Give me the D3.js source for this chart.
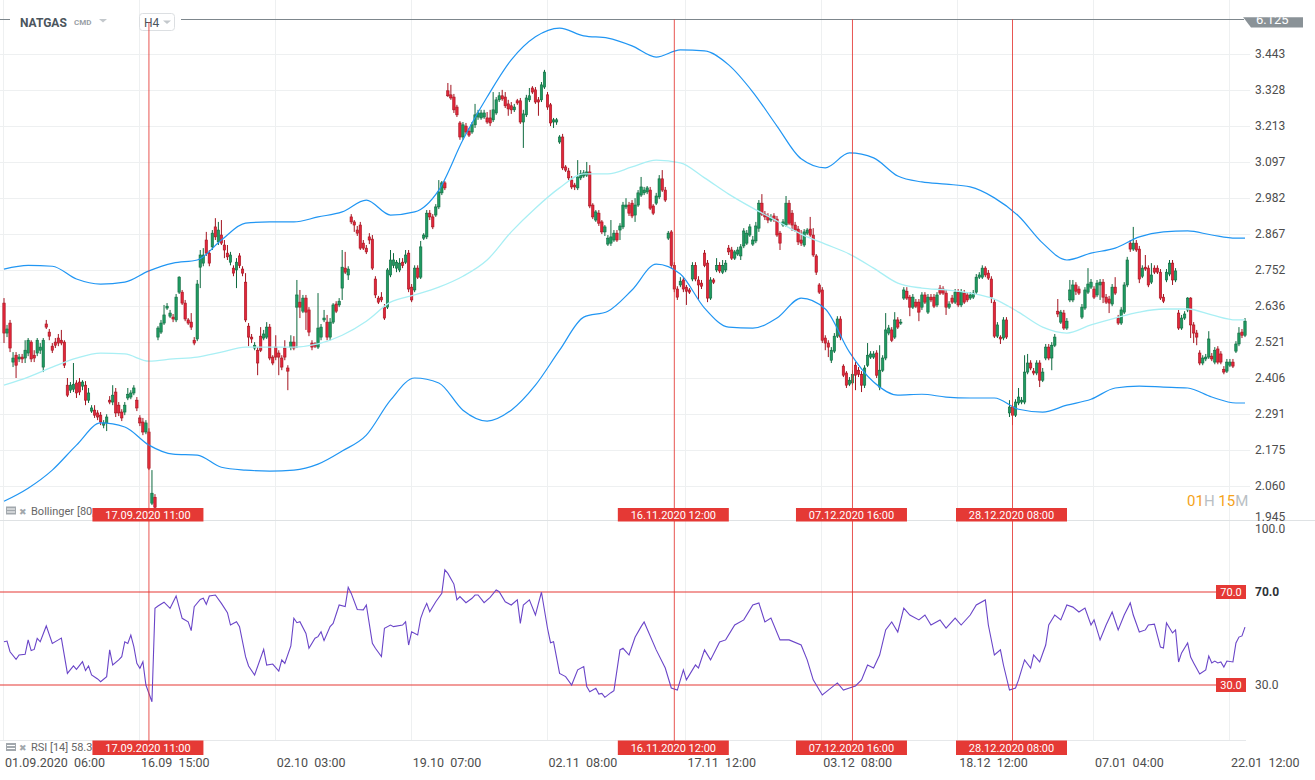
<!DOCTYPE html>
<html>
<head>
<meta charset="utf-8">
<title>NATGAS H4</title>
<script src="https://cdn.jsdelivr.net/npm/d3@7/dist/d3.min.js"></script>
<style>
  html, body { margin: 0; padding: 0; background: #fff; overflow: hidden; }
  svg { display: block; font-family: Roboto, "Noto Sans", Arial, sans-serif; }
</style>
</head>
<body>
<svg id="svg"></svg>
<script>
// H4 candles (prices)
const opens = [
  2.646,2.550,2.582,2.457,2.479,2.467,2.473,2.470,2.486,2.521,
  2.479,2.486,2.495,2.441,2.579,2.553,2.508,2.521,2.534,2.527,
  2.521,2.383,2.367,2.370,2.390,2.393,2.380,2.383,2.335,2.300,
  2.303,2.294,2.287,2.255,2.262,2.335,2.329,2.361,2.319,2.297,
  2.297,2.342,2.345,2.358,2.335,2.278,2.265,2.233,2.233,2.005,
  2.024,2.537,2.553,2.582,2.630,2.604,2.601,2.592,2.681,2.681,
  2.646,2.592,2.585,2.527,2.531,2.761,2.774,2.848,2.806,2.826,
  2.890,2.842,2.864,2.832,2.806,2.777,2.758,2.752,2.797,2.755,
  2.713,2.572,2.537,2.502,2.495,2.540,2.534,2.537,2.569,2.473,
  2.505,2.486,2.470,2.502,2.438,2.505,2.521,2.633,2.649,2.620,
  2.662,2.624,2.518,2.515,2.505,2.537,2.592,2.585,2.537,2.585,
  2.643,2.640,2.694,2.758,2.736,2.922,2.906,2.880,2.896,2.838,
  2.822,2.858,2.851,2.723,2.662,2.665,2.633,2.633,2.736,2.767,
  2.758,2.752,2.777,2.777,2.806,2.697,2.688,2.758,2.729,2.854,
  2.858,2.934,2.922,2.928,2.954,2.999,3.031,3.326,3.313,3.306,
  3.274,3.223,3.178,3.213,3.197,3.194,3.217,3.242,3.239,3.242,
  3.239,3.239,3.233,3.255,3.297,3.310,3.306,3.284,3.278,3.265,
  3.294,3.294,3.226,3.249,3.297,3.335,3.329,3.297,3.297,3.338,
  3.313,3.281,3.226,3.226,3.162,3.178,3.082,3.069,3.040,3.024,
  3.015,3.047,3.053,3.056,3.066,2.960,2.912,2.934,2.906,2.874,
  2.835,2.838,2.848,2.870,2.880,2.890,2.954,2.960,2.966,2.928,
  2.960,2.992,2.999,3.002,3.008,2.957,2.966,2.986,3.044,3.008,
  2.854,2.874,2.767,2.691,2.704,2.720,2.697,2.688,2.723,2.767,
  2.720,2.710,2.806,2.774,2.662,2.720,2.752,2.767,2.745,2.752,
  2.822,2.816,2.790,2.803,2.797,2.829,2.838,2.864,2.835,2.845,
  2.886,2.966,2.931,2.925,2.912,2.925,2.915,2.870,2.896,2.896,
  2.966,2.934,2.896,2.883,2.848,2.832,2.870,2.883,2.864,2.797,
  2.704,2.688,2.534,2.518,2.463,2.492,2.540,2.595,2.444,2.422,
  2.386,2.390,2.447,2.431,2.418,2.383,2.447,2.473,2.473,2.486,
  2.377,2.431,2.470,2.550,2.560,2.537,2.592,2.582,2.662,2.684,
  2.665,2.633,2.649,2.649,2.633,2.672,2.617,2.665,2.665,2.640,
  2.694,2.691,2.678,2.633,2.662,2.649,2.681,2.640,2.678,2.672,
  2.662,2.665,2.681,2.729,2.729,2.758,2.742,2.723,2.649,2.540,
  2.537,2.534,2.592,2.294,2.313,2.287,2.326,2.329,2.329,2.425,
  2.454,2.428,2.422,2.454,2.399,2.470,2.505,2.470,2.511,2.620,
  2.585,2.614,2.566,2.656,2.656,2.704,2.691,2.601,2.630,2.681,
  2.697,2.691,2.672,2.704,2.713,2.665,2.659,2.643,2.697,2.598,
  2.582,2.617,2.704,2.838,2.819,2.838,2.819,2.732,2.761,2.758,
  2.713,2.758,2.758,2.745,2.665,2.720,2.739,2.774,2.720,2.614,
  2.566,2.598,2.624,2.662,2.576,2.550,2.486,2.454,2.467,2.473,
  2.476,2.457,2.499,2.483,2.434,2.428,2.447,2.457,2.492,2.515,
  2.553,2.543
];
const highs = [
  2.662,2.576,2.592,2.489,2.489,2.483,2.483,2.527,2.534,2.527,
  2.495,2.534,2.518,2.534,2.592,2.563,2.518,2.534,2.547,2.560,
  2.527,2.406,2.393,2.454,2.399,2.406,2.399,2.396,2.374,2.319,
  2.319,2.303,2.297,2.271,2.290,2.348,2.383,2.374,2.329,2.306,
  2.329,2.374,2.367,2.383,2.345,2.287,2.278,2.271,2.245,2.111,
  2.034,2.572,2.592,2.640,2.646,2.624,2.611,2.675,2.732,2.688,
  2.656,2.598,2.614,2.537,2.720,2.816,2.822,2.874,2.816,2.880,
  2.918,2.906,2.912,2.848,2.832,2.810,2.767,2.790,2.806,2.764,
  2.742,2.582,2.547,2.521,2.505,2.569,2.560,2.585,2.579,2.479,
  2.543,2.495,2.479,2.527,2.447,2.543,2.540,2.720,2.688,2.672,
  2.672,2.633,2.527,2.521,2.678,2.579,2.624,2.608,2.598,2.646,
  2.652,2.662,2.816,2.810,2.764,2.931,2.912,2.893,2.906,2.848,
  2.832,2.870,2.864,2.732,2.669,2.681,2.643,2.758,2.816,2.806,
  2.784,2.790,2.790,2.816,2.816,2.707,2.767,2.767,2.845,2.870,
  2.944,2.944,2.931,2.963,3.040,3.037,3.037,3.351,3.345,3.316,
  3.281,3.229,3.226,3.223,3.207,3.226,3.284,3.265,3.265,3.265,
  3.258,3.265,3.322,3.306,3.322,3.329,3.322,3.297,3.290,3.284,
  3.300,3.303,3.265,3.313,3.335,3.341,3.338,3.306,3.354,3.393,
  3.322,3.287,3.239,3.239,3.184,3.188,3.088,3.079,3.053,3.031,
  3.104,3.072,3.072,3.098,3.088,2.966,2.944,2.944,2.912,2.896,
  2.864,2.912,2.880,2.880,2.902,2.970,2.982,2.970,2.976,2.982,
  3.008,3.050,3.018,3.021,3.018,2.963,2.999,3.056,3.072,3.018,
  2.877,2.880,2.777,2.700,2.729,2.729,2.704,2.694,2.777,2.777,
  2.732,2.720,2.816,2.784,2.729,2.726,2.790,2.777,2.784,2.784,
  2.832,2.826,2.816,2.826,2.835,2.886,2.880,2.899,2.861,2.906,
  2.976,2.995,2.941,2.934,2.931,2.934,2.925,2.877,2.915,2.989,
  2.976,2.944,2.906,2.893,2.880,2.883,2.886,2.922,2.886,2.803,
  2.710,2.697,2.543,2.527,2.505,2.550,2.604,2.604,2.450,2.428,
  2.409,2.431,2.457,2.441,2.428,2.447,2.518,2.492,2.492,2.495,
  2.511,2.479,2.614,2.576,2.569,2.617,2.601,2.595,2.697,2.697,
  2.672,2.675,2.659,2.659,2.681,2.681,2.675,2.675,2.675,2.681,
  2.704,2.700,2.688,2.652,2.672,2.691,2.691,2.691,2.688,2.681,
  2.681,2.688,2.739,2.745,2.767,2.764,2.752,2.732,2.659,2.585,
  2.543,2.601,2.601,2.335,2.322,2.338,2.374,2.345,2.479,2.483,
  2.463,2.438,2.463,2.463,2.438,2.515,2.515,2.521,2.547,2.659,
  2.624,2.624,2.598,2.720,2.720,2.713,2.700,2.643,2.697,2.758,
  2.723,2.700,2.720,2.723,2.723,2.675,2.669,2.707,2.729,2.608,
  2.633,2.713,2.794,2.848,2.890,2.848,2.829,2.767,2.800,2.767,
  2.774,2.767,2.767,2.755,2.675,2.755,2.784,2.784,2.758,2.624,
  2.608,2.620,2.665,2.665,2.585,2.560,2.495,2.479,2.483,2.556,
  2.486,2.505,2.508,2.492,2.444,2.467,2.467,2.467,2.524,2.569,
  2.563,2.598
];
const lows = [
  2.518,2.537,2.489,2.441,2.406,2.457,2.454,2.454,2.476,2.457,
  2.457,2.476,2.483,2.425,2.563,2.527,2.486,2.502,2.508,2.511,
  2.438,2.345,2.358,2.361,2.342,2.351,2.367,2.319,2.326,2.294,
  2.278,2.271,2.255,2.245,2.236,2.322,2.319,2.281,2.284,2.268,
  2.287,2.335,2.338,2.351,2.300,2.252,2.223,2.226,2.111,1.999,
  1.951,2.527,2.547,2.576,2.624,2.598,2.585,2.585,2.675,2.640,
  2.588,2.576,2.560,2.511,2.524,2.694,2.764,2.797,2.764,2.816,
  2.848,2.832,2.832,2.790,2.784,2.767,2.732,2.694,2.758,2.732,
  2.585,2.508,2.518,2.495,2.415,2.489,2.527,2.531,2.463,2.447,
  2.463,2.415,2.431,2.463,2.367,2.495,2.495,2.502,2.598,2.614,
  2.560,2.540,2.495,2.502,2.499,2.527,2.585,2.527,2.527,2.579,
  2.614,2.633,2.656,2.739,2.720,2.899,2.874,2.861,2.816,2.816,
  2.803,2.835,2.752,2.662,2.643,2.649,2.592,2.627,2.729,2.758,
  2.745,2.745,2.758,2.771,2.681,2.649,2.681,2.723,2.723,2.848,
  2.851,2.912,2.883,2.922,2.947,2.992,3.008,3.306,3.297,3.255,
  3.242,3.169,3.169,3.188,3.178,3.188,3.207,3.233,3.233,3.236,
  3.220,3.213,3.226,3.249,3.290,3.294,3.271,3.246,3.252,3.258,
  3.281,3.220,3.143,3.242,3.290,3.316,3.284,3.246,3.290,3.332,
  3.265,3.213,3.207,3.217,3.156,3.072,3.066,3.040,3.011,3.008,
  3.008,3.040,3.047,3.050,2.950,2.915,2.906,2.893,2.867,2.861,
  2.829,2.829,2.842,2.842,2.848,2.883,2.947,2.925,2.918,2.906,
  2.954,2.986,2.992,2.995,2.944,2.928,2.960,2.979,3.002,2.970,
  2.848,2.758,2.681,2.656,2.697,2.681,2.640,2.675,2.716,2.716,
  2.656,2.691,2.761,2.649,2.656,2.707,2.745,2.742,2.739,2.745,
  2.800,2.784,2.784,2.797,2.784,2.822,2.832,2.858,2.829,2.838,
  2.874,2.925,2.912,2.902,2.906,2.906,2.858,2.816,2.890,2.890,
  2.896,2.877,2.874,2.832,2.829,2.826,2.864,2.858,2.794,2.736,
  2.675,2.518,2.495,2.473,2.454,2.486,2.534,2.527,2.409,2.374,
  2.380,2.383,2.367,2.409,2.361,2.374,2.441,2.467,2.467,2.406,
  2.367,2.425,2.463,2.543,2.521,2.531,2.563,2.576,2.656,2.656,
  2.604,2.627,2.630,2.588,2.624,2.643,2.611,2.649,2.630,2.633,
  2.672,2.672,2.608,2.627,2.643,2.643,2.633,2.633,2.643,2.649,
  2.656,2.659,2.675,2.723,2.723,2.729,2.720,2.646,2.534,2.534,
  2.515,2.527,2.531,2.281,2.255,2.281,2.319,2.322,2.322,2.418,
  2.431,2.415,2.415,2.377,2.393,2.463,2.463,2.431,2.505,2.601,
  2.579,2.560,2.560,2.649,2.649,2.672,2.672,2.595,2.624,2.675,
  2.691,2.659,2.665,2.656,2.646,2.643,2.614,2.636,2.672,2.576,
  2.576,2.611,2.697,2.810,2.813,2.810,2.710,2.726,2.749,2.697,
  2.707,2.739,2.739,2.656,2.646,2.713,2.732,2.704,2.713,2.560,
  2.560,2.592,2.617,2.534,2.518,2.511,2.447,2.447,2.460,2.467,
  2.460,2.450,2.450,2.450,2.418,2.422,2.441,2.438,2.486,2.508,
  2.534,2.537
];
const closes = [
  2.550,2.563,2.502,2.470,2.447,2.473,2.467,2.495,2.527,2.467,
  2.470,2.527,2.505,2.527,2.569,2.540,2.495,2.511,2.518,2.518,
  2.447,2.351,2.383,2.386,2.358,2.361,2.393,2.335,2.358,2.310,
  2.287,2.281,2.265,2.262,2.281,2.329,2.351,2.294,2.294,2.278,
  2.319,2.354,2.358,2.374,2.310,2.262,2.233,2.262,2.117,2.037,
  1.992,2.566,2.582,2.608,2.636,2.614,2.595,2.665,2.729,2.646,
  2.595,2.582,2.569,2.518,2.707,2.800,2.800,2.806,2.774,2.870,
  2.858,2.880,2.838,2.816,2.794,2.800,2.742,2.777,2.767,2.742,
  2.592,2.537,2.531,2.511,2.454,2.495,2.547,2.569,2.470,2.454,
  2.473,2.473,2.441,2.473,2.428,2.521,2.502,2.672,2.633,2.662,
  2.617,2.553,2.505,2.508,2.566,2.569,2.598,2.537,2.585,2.640,
  2.620,2.652,2.761,2.745,2.755,2.906,2.896,2.870,2.822,2.822,
  2.810,2.848,2.758,2.672,2.649,2.656,2.598,2.752,2.784,2.784,
  2.777,2.774,2.767,2.800,2.691,2.656,2.758,2.729,2.826,2.864,
  2.934,2.922,2.890,2.954,3.002,3.031,3.015,3.310,3.303,3.265,
  3.249,3.178,3.217,3.194,3.184,3.217,3.249,3.255,3.255,3.255,
  3.226,3.223,3.265,3.297,3.310,3.300,3.278,3.268,3.265,3.274,
  3.287,3.226,3.252,3.303,3.310,3.322,3.290,3.290,3.345,3.386,
  3.274,3.223,3.233,3.233,3.178,3.079,3.072,3.047,3.018,3.018,
  3.050,3.060,3.063,3.066,2.957,2.922,2.938,2.902,2.874,2.890,
  2.854,2.858,2.870,2.848,2.893,2.960,2.960,2.934,2.925,2.960,
  2.999,3.018,3.008,3.015,2.950,2.934,2.989,3.044,3.008,2.976,
  2.870,2.767,2.691,2.665,2.716,2.691,2.684,2.681,2.767,2.723,
  2.704,2.700,2.767,2.662,2.720,2.713,2.767,2.749,2.767,2.774,
  2.810,2.790,2.810,2.816,2.826,2.877,2.870,2.890,2.848,2.893,
  2.966,2.931,2.922,2.912,2.918,2.915,2.864,2.838,2.906,2.966,
  2.902,2.896,2.880,2.842,2.838,2.874,2.880,2.864,2.800,2.745,
  2.681,2.527,2.518,2.505,2.495,2.540,2.595,2.537,2.415,2.383,
  2.399,2.418,2.415,2.418,2.383,2.438,2.479,2.483,2.483,2.415,
  2.431,2.470,2.560,2.566,2.527,2.592,2.569,2.585,2.688,2.662,
  2.633,2.665,2.636,2.617,2.672,2.649,2.665,2.656,2.636,2.672,
  2.678,2.678,2.633,2.643,2.649,2.681,2.640,2.681,2.649,2.656,
  2.672,2.678,2.729,2.736,2.758,2.736,2.726,2.665,2.540,2.576,
  2.531,2.592,2.537,2.313,2.287,2.329,2.345,2.335,2.425,2.454,
  2.438,2.422,2.454,2.399,2.425,2.505,2.470,2.511,2.537,2.611,
  2.617,2.566,2.588,2.688,2.704,2.684,2.678,2.633,2.688,2.707,
  2.713,2.665,2.710,2.713,2.665,2.649,2.646,2.697,2.678,2.582,
  2.624,2.704,2.784,2.819,2.838,2.816,2.723,2.758,2.755,2.704,
  2.736,2.745,2.745,2.662,2.652,2.745,2.774,2.720,2.749,2.566,
  2.598,2.611,2.662,2.576,2.550,2.537,2.454,2.470,2.473,2.531,
  2.467,2.495,2.457,2.457,2.425,2.457,2.457,2.444,2.515,2.550,
  2.543,2.588
];

// Bollinger (80, 2), sampled at these candle indices
const bandIdx = [0,8,16,24,32,40,48,56,64,72,80,88,96,104,112,120,128,136,144,152,
  160,168,176,184,192,200,208,216,224,232,240,248,256,264,272,280,288,296,304,312,
  320,328,336,344,352,360,368,376,384,392,400,408,411];
const bbUpper = [
  2.755,2.767,2.764,2.723,2.707,2.713,2.749,2.774,2.784,2.848,
  2.902,2.906,2.906,2.922,2.938,2.976,2.928,2.938,3.008,3.169,
  3.306,3.425,3.499,3.527,3.502,3.495,3.470,3.434,3.457,3.454,
  3.409,3.322,3.213,3.108,3.079,3.127,3.111,3.053,3.034,3.027,
  3.018,2.983,2.925,2.838,2.784,2.806,2.822,2.858,2.874,2.877,
  2.864,2.854,2.854
];
const bbMiddle = [
  2.383,2.409,2.441,2.470,2.486,2.483,2.460,2.467,2.473,2.489,
  2.505,2.505,2.505,2.515,2.543,2.588,2.649,2.672,2.697,2.732,
  2.784,2.874,2.950,3.015,3.060,3.060,3.082,3.104,3.095,3.047,
  2.995,2.950,2.909,2.867,2.835,2.803,2.758,2.710,2.694,2.688,
  2.678,2.659,2.617,2.569,2.550,2.576,2.598,2.617,2.627,2.627,
  2.608,2.592,2.592
];
const bbLower = [
  2.011,2.053,2.111,2.191,2.262,2.249,2.191,2.162,2.159,2.120,
  2.111,2.108,2.111,2.130,2.172,2.223,2.335,2.406,2.390,2.303,
  2.268,2.303,2.383,2.495,2.601,2.620,2.688,2.771,2.739,2.630,
  2.569,2.566,2.598,2.662,2.627,2.489,2.393,2.351,2.354,2.345,
  2.342,2.342,2.306,2.297,2.319,2.338,2.374,2.380,2.377,2.374,
  2.345,2.326,2.326
];

// RSI (14), candle index and value
const rsiIdx = [
  0,1,2,4,5,7,8,9,10,11, 12,14,16,18,19,21,23,24,26,27,
  28,29,31,32,34,35,36,38,39,40, 41,42,43,44,45,46,47,49,50,51,
  53,55,57,59,61,62,63,65,66,67, 68,70,72,74,75,77,78,80,81,83,
  86,87,89,91,92,93,95,96,97,98, 100,101,103,104,105,106,108,109,111,113,
  114,115,117,119,120,122,123,125,126,128, 129,132,133,134,135,137,138,139,140,141,
  143,145,146,147,149,150,151,153,155,156, 157,159,161,163,164,166,168,170,171,172,
  174,176,177,178,180,181,182,184,186,188, 190,192,193,194,196,197,198,199,201,202,
  204,205,207,209,211,212,216,219,221,223, 225,226,229,230,232,234,237,239,242,245,
  248,250,252,254,257,260,264,266,268,271, 273,276,278,280,282,284,286,288,290,292,
  294,296,298,300,303,305,307,310,312,315, 317,320,322,325,326,328,330,331,333,335,
  336,338,340,341,343,345,346,348,350,352, 354,356,358,360,361,363,365,367,369,371,
  373,374,376,378,379,381,383,384,385,387, 388,389,390,392,393,394,396,398,399,400,
  401,402,403,404,405,407,408,409,410,411
];
const rsiVals = [
  48.6,48.9,44.3,41.0,42.9,43.2,49.4,44.8,45.3,50.1, 48.6,55.4,47.9,49.4,50.2,35.0,38.2,36.7,40.0,36.2,
  38.2,34.3,32.6,31.4,33.6,45.1,38.6,40.8,42.2,48.6, 47.9,51.5,46.5,39.3,37.2,40.0,30.0,22.8,63.0,64.0,
  65.6,63.0,68.3,58.7,57.2,53.4,63.7,66.8,67.3,64.7, 68.3,68.7,65.1,61.1,55.8,57.2,55.1,42.2,38.2,34.3,
  45.3,38.6,39.0,36.0,40.8,39.3,46.8,58.7,56.8,57.2, 52.2,45.8,50.1,50.8,52.9,49.1,55.1,56.5,64.4,63.7,
  72.0,69.4,62.5,62.3,64.4,47.9,45.8,42.2,54.4,55.8, 55.1,55.8,57.2,47.2,52.9,51.5,58.7,62.3,65.1,61.5,
  65.8,69.4,79.5,78.0,73.4,66.6,68.0,65.4,67.3,68.7, 68.7,65.4,67.7,70.9,70.1,65.8,64.4,66.6,56.5,64.4,
  66.6,60.1,65.1,69.9,54.4,48.2,48.6,35.0,33.6,30.0, 36.5,37.9,29.3,27.1,28.6,26.1,26.4,24.7,26.7,27.6,
  45.1,45.8,42.9,50.5,55.1,57.1,45.1,37.3,28.7,27.8, 36.5,32.2,38.6,37.3,45.1,40.8,48.5,49.4,55.8,58.0,
  64.4,65.3,57.1,58.8,49.4,49.4,47.2,40.8,32.2,25.7, 27.8,30.9,27.8,28.7,29.6,32.2,38.6,37.3,42.9,53.7,
  57.1,52.8,63.1,60.1,58.0,60.1,55.8,58.0,54.5,58.8, 55.8,60.1,64.4,66.6,55.8,42.9,45.1,38.6,27.8,28.7,
  32.2,40.8,37.3,42.9,39.9,47.2,55.8,60.1,58.0,64.4, 63.5,61.4,63.1,55.8,58.0,49.4,55.8,61.4,53.7,60.1,
  65.3,60.1,52.8,53.7,55.8,56.2,46.3,45.9,56.7,52.4, 53.7,39.9,43.8,48.1,42.0,39.5,34.7,36.5,42.5,39.5,
  40.3,39.5,39.9,37.7,40.3,39.9,48.1,50.6,51.1,54.9
];

const priceTicks = ['3.443','3.328','3.213','3.097','2.982','2.867','2.752','2.636','2.521','2.406','2.291','2.175','2.060','1.945'];
const rsiTicks = [100, 70, 30];
const rsiLevels = [70, 30];
const dateTickIdx = [0, 45, 90, 135, 180, 226, 271, 316, 361, 406];
const dateTicks = ['01.09.2020  06:00', '16.09  15:00', '02.10  03:00', '19.10  07:00', '02.11  08:00',
  '17.11  12:00', '03.12  08:00', '18.12  12:00', '07.01  04:00', '22.01  12:00'];
const markerIdx = [48, 222, 281, 334];
const markerLabels = ['17.09.2020 11:00', '16.11.2020 12:00', '07.12.2020 16:00', '28.12.2020 08:00'];

const WIDTH = 1315, HEIGHT = 780;
const PLOT_RIGHT = 1250;
const MAIN_TOP = 19, MAIN_BOTTOM = 520.2;
const RSI_BOTTOM = 740.5;
const GREEN = '#1f9a61', GREEN_DARK = '#0e6a3f';
const RED = '#e2263a', RED_DARK = '#a3131f';
const MARK_RED = '#e53935';
const AXIS_TEXT = '#4d4d4d';

const svg = d3.select('#svg').attr('width', WIDTH).attr('height', HEIGHT);

const x = d3.scaleLinear().domain([0, closes.length - 1]).range([4, 1245]);
const y = d3.scaleLinear().domain([1.9505, 3.556]).range([MAIN_BOTTOM, MAIN_TOP]);
const yRsi = d3.scaleLinear().domain([0, 100]).range([754.75, 522.25]);
const crisp = v => Math.round(v) + 0.5;

const defs = svg.append('defs');
defs.append('clipPath').attr('id', 'mainClip')
  .append('rect').attr('x', 0).attr('y', MAIN_TOP).attr('width', PLOT_RIGHT).attr('height', MAIN_BOTTOM - MAIN_TOP);
defs.append('clipPath').attr('id', 'flagClip')
  .append('rect').attr('x', 1230).attr('y', 17.3).attr('width', 85).attr('height', 12);

// grid
const grid = svg.append('g').attr('stroke', '#eef0f1').attr('stroke-width', 1).attr('shape-rendering', 'crispEdges');
grid.selectAll('line.h').data(priceTicks.slice(0, -1)).enter().append('line')
  .attr('x1', 0).attr('x2', PLOT_RIGHT)
  .attr('y1', d => crisp(y(+d))).attr('y2', d => crisp(y(+d)));
grid.selectAll('line.v').data(dateTickIdx).enter().append('line')
  .attr('x1', d => crisp(x(d)) - 1).attr('x2', d => crisp(x(d)) - 1)
  .attr('y1', 0).attr('y2', RSI_BOTTOM);

// panel separators
svg.append('line').attr('x1', 0).attr('x2', WIDTH).attr('y1', 520.5).attr('y2', 520.5)
  .attr('stroke', '#dfe2e4').attr('shape-rendering', 'crispEdges');
svg.append('line').attr('x1', 0).attr('x2', PLOT_RIGHT - 4).attr('y1', RSI_BOTTOM).attr('y2', RSI_BOTTOM)
  .attr('stroke', '#e6e8ea').attr('shape-rendering', 'crispEdges');

// candles
const candles = closes.map((c, i) => ({
  i, o: opens[i], c,
  h: Math.max(highs[i], opens[i], c),
  l: Math.min(lows[i], opens[i], c)
}));
const isUp = d => d.c >= d.o;
const cg = svg.append('g').attr('clip-path', 'url(#mainClip)');
cg.selectAll('line.wick').data(candles).enter().append('line')
  .attr('class', 'wick')
  .attr('x1', d => x(d.i)).attr('x2', d => x(d.i))
  .attr('y1', d => y(d.h)).attr('y2', d => y(d.l))
  .attr('stroke', d => isUp(d) ? GREEN_DARK : RED_DARK)
  .attr('stroke-width', 1);
cg.selectAll('rect.body').data(candles).enter().append('rect')
  .attr('class', 'body')
  .attr('x', d => x(d.i) - 1.2).attr('width', 2.4)
  .attr('y', d => y(Math.max(d.o, d.c)))
  .attr('height', d => Math.max(1, Math.abs(y(d.o) - y(d.c))))
  .attr('fill', d => isUp(d) ? GREEN : RED)
  .attr('stroke', d => isUp(d) ? GREEN_DARK : RED_DARK)
  .attr('stroke-width', 0.6);

// bollinger bands
const bandLine = d3.line()
  .x((d, k) => x(bandIdx[k]))
  .y(d => y(d))
  .curve(d3.curveMonotoneX);
const bg = svg.append('g').attr('clip-path', 'url(#mainClip)').attr('fill', 'none');
bg.append('path').attr('d', bandLine(bbMiddle)).attr('stroke', '#a9eff4').attr('stroke-width', 1.3);
bg.append('path').attr('d', bandLine(bbUpper)).attr('stroke', '#2196f3').attr('stroke-width', 1.2);
bg.append('path').attr('d', bandLine(bbLower)).attr('stroke', '#2196f3').attr('stroke-width', 1.2);

// RSI levels and line
svg.append('g').selectAll('line').data(rsiLevels).enter().append('line')
  .attr('x1', 0).attr('x2', 1216)
  .attr('y1', d => yRsi(d)).attr('y2', d => yRsi(d))
  .attr('stroke', MARK_RED).attr('stroke-width', 1.1);
const rsiLine = d3.line()
  .x((d, k) => x(rsiIdx[k]))
  .y(d => yRsi(d));
svg.append('path').attr('d', rsiLine(rsiVals))
  .attr('fill', 'none').attr('stroke', '#6a45c8').attr('stroke-width', 1.1);

// top price line and flag
const topLine = svg.append('g').attr('stroke', '#7d868c').attr('stroke-width', 1).attr('shape-rendering', 'crispEdges');
topLine.append('line').attr('x1', 0).attr('x2', 10).attr('y1', 19.5).attr('y2', 19.5);
topLine.append('line').attr('x1', 181).attr('x2', 1244).attr('y1', 19.5).attr('y2', 19.5);
const flag = svg.append('g').attr('clip-path', 'url(#flagClip)');
flag.append('polygon').attr('points', '1243,17 1303,17 1303,27.5 1251,27.5').attr('fill', '#8a9297');
flag.append('text').attr('x', 1256).attr('y', 24).attr('font-size', 13).attr('fill', '#fff').text('6.125');

// header
const head = svg.append('g');
head.append('text').attr('x', 20).attr('y', 26.7).attr('font-size', 12).attr('font-weight', 700)
  .attr('fill', '#4b555d').text('NATGAS');
head.append('text').attr('x', 74).attr('y', 25.3).attr('font-size', 8).attr('font-weight', 700)
  .attr('fill', '#9aa1a7').text('CMD');
head.append('polygon').attr('points', '99,19 107,19 103,22.5').attr('fill', '#c3c8cc');
head.append('rect').attr('x', 139.5).attr('y', 13.5).attr('width', 35).attr('height', 17).attr('rx', 3)
  .attr('fill', '#fff').attr('stroke', '#dcdfe2');
head.append('text').attr('x', 144).attr('y', 26.5).attr('font-size', 12).attr('fill', '#4b555d').text('H4');
head.append('polygon').attr('points', '163,20.5 171,20.5 167,24').attr('fill', '#c3c8cc');

// vertical markers
const mk = svg.append('g');
mk.selectAll('line').data(markerIdx).enter().append('line')
  .attr('x1', d => x(d)).attr('x2', d => x(d))
  .attr('y1', (d, k) => k === 0 ? 22 : 19.5).attr('y2', 748)
  .attr('stroke', MARK_RED).attr('stroke-width', 1).attr('opacity', 0.85);
[[508, 13.5], [740.5, 14.5]].forEach(([top, h]) => {
  const g = mk.append('g');
  g.selectAll('rect').data(markerIdx).enter().append('rect')
    .attr('x', d => x(d) - 56.5).attr('y', top).attr('width', 111).attr('height', h)
    .attr('fill', MARK_RED);
  g.selectAll('text').data(markerIdx).enter().append('text')
    .attr('x', d => x(d) - 1).attr('y', top + h / 2 + 4)
    .attr('text-anchor', 'middle').attr('font-size', 11).attr('fill', '#fff')
    .text((d, k) => markerLabels[k]);
});

// indicator legends, left of the first marker box
function legend(yBase, parts) {
  const g = svg.insert('g', () => mk.node());
  g.append('rect').attr('x', 6).attr('y', yBase - 8).attr('width', 10).attr('height', 8).attr('fill', '#a2a8ad');
  g.append('line').attr('x1', 7).attr('x2', 15).attr('y1', yBase - 5.5).attr('y2', yBase - 5.5).attr('stroke', '#fff');
  g.append('line').attr('x1', 7).attr('x2', 15).attr('y1', yBase - 2.5).attr('y2', yBase - 2.5).attr('stroke', '#fff');
  g.append('text').attr('x', 19).attr('y', yBase).attr('font-size', 9).attr('fill', '#a2a8ad').text('\u2716');
  g.selectAll('text.p').data(parts).enter().append('text')
    .attr('class', 'p')
    .attr('x', d => d[0]).attr('y', yBase).attr('font-size', 11).attr('fill', '#666')
    .text(d => d[1]);
}
legend(514.5, [[31, 'Bollinger'], [77, '[80,']]);
legend(751, [[31, 'RSI'], [50, '[14]'], [71, '58.3']]);

// right axis
const ax = svg.append('g').attr('font-size', 12).attr('fill', AXIS_TEXT);
ax.selectAll('text.p').data(priceTicks).enter().append('text')
  .attr('x', 1255).attr('y', d => Math.min(y(+d), 516.5)).attr('dy', '0.35em')
  .text(d => d);
ax.selectAll('text.r').data(rsiTicks).enter().append('text')
  .attr('x', 1255).attr('y', d => Math.max(yRsi(d), 529)).attr('dy', '0.35em')
  .attr('font-weight', d => d === 70 ? 700 : 400)
  .attr('fill', d => d === 70 ? '#2e3338' : AXIS_TEXT)
  .text(d => d.toFixed(1));
const lv = svg.append('g');
lv.selectAll('rect').data(rsiLevels).enter().append('rect')
  .attr('x', 1216).attr('y', d => yRsi(d) - 7).attr('width', 30).attr('height', 14).attr('fill', MARK_RED);
lv.selectAll('text').data(rsiLevels).enter().append('text')
  .attr('x', 1231).attr('y', d => yRsi(d) + 4).attr('text-anchor', 'middle')
  .attr('font-size', 11).attr('fill', '#fff').text(d => d.toFixed(1));

// time axis
svg.append('g').attr('font-size', 12.5).attr('fill', AXIS_TEXT)
  .selectAll('text').data(dateTickIdx).enter().append('text')
  .attr('x', d => x(d) + 1).attr('y', 766.5)
  .text((d, k) => dateTicks[k].replace(/ /g, '\u00a0'));

// time to candle close
const tm = svg.append('text').attr('x', 1187).attr('y', 506).attr('font-size', 15);
[['01', '#f5a31a'], ['H\u00a0', '#b9bfc4'], ['15', '#f5a31a'], ['M', '#b9bfc4']].forEach(([t, c]) => {
  tm.append('tspan').attr('fill', c).text(t);
});
</script>
</body>
</html>
